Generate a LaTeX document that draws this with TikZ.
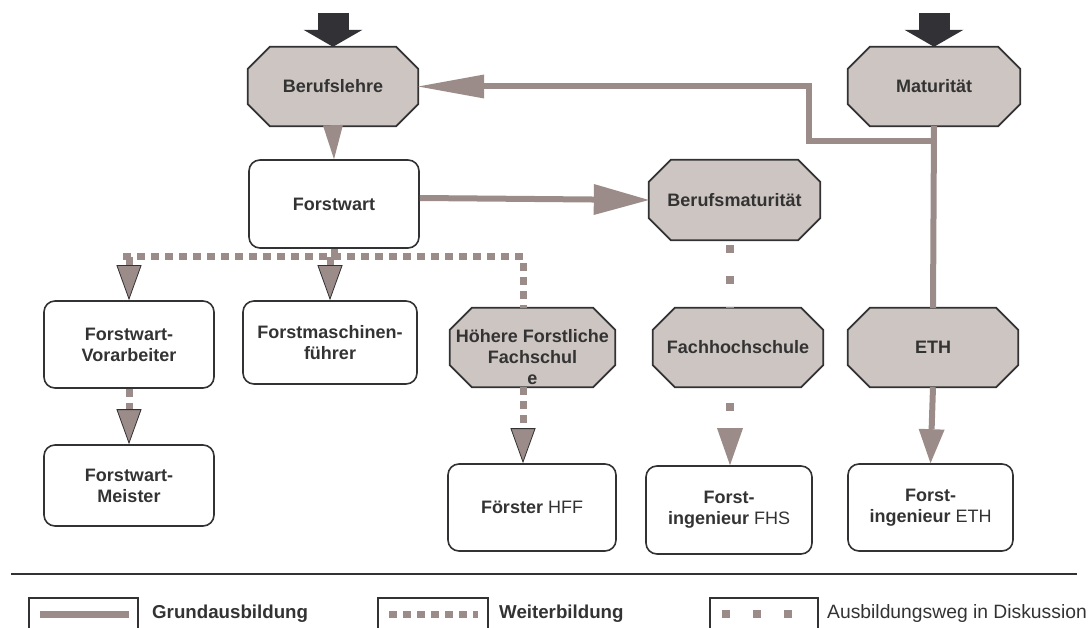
\documentclass[tikz,border=0pt]{standalone}
\usepackage{fontspec}
\setmainfont{Liberation Sans}
\usetikzlibrary{arrows.meta}
\pgfdeclarelayer{background}
\pgfsetlayers{background,main}

\definecolor{octfill}{RGB}{205,197,194}
\definecolor{conn}{RGB}{155,140,137}
\definecolor{outl}{RGB}{50,50,52}
\definecolor{txt}{RGB}{51,51,51}
\definecolor{entrycol}{RGB}{50,49,54}

\tikzset{
	lbl/.style={font=\bfseries\fontsize{18}{21}\selectfont, text=txt, align=center},
	oct/.style={lbl, minimum width=170pt, minimum height=79pt, inner sep=1pt},
	octline/.style={draw=outl, line width=1.8pt, fill=octfill},
	rbox/.style={lbl, draw=outl, line width=1.6pt, rounded corners=11pt, minimum width=170pt, inner sep=1pt},
	grund/.style={draw=conn, line width=6pt},
	weiter/.style={draw=conn, line width=7pt, dash pattern=on 8pt off 6pt},
	disk/.style={draw=conn, line width=8pt, dash pattern=on 8pt off 23pt},
	entry/.style={draw=entrycol, line width=31pt, -{Triangle[length=17pt, width=59pt, line width=0pt]}},
	gtip/.tip={Triangle[length=34pt, width=26pt, line width=0pt]},
	wtip/.tip={Triangle[length=35pt, width=25pt, line width=0.8pt, fill=conn, color=outl]},
	legtext/.style={anchor=west, font=\bfseries\fontsize{18.7}{21}\selectfont, text=txt, inner sep=0pt}
}

\begin{document}
\begin{tikzpicture}[x=1pt, y=-1pt]
	\useasboundingbox (0,0) rectangle (1090,628);

	% Boxen
	\node[oct] (lehre) at (333,86.5) {Berufslehre};
	\node[oct, minimum width=172pt] (matur) at (934,86.5) {Maturität};
	\node[rbox, minimum height=88pt] (forstwart) at (334,204) {Forstwart};
	\node[oct, minimum width=171pt, minimum height=80pt] (bmat) at (734.5,200) {Berufsmaturität};
	\node[rbox, minimum height=87pt] (vorarb) at (129,344.5) {Forstwart-\\Vorarbeiter};
	\node[rbox, minimum width=174pt, minimum height=83pt] (fmasch) at (330,342.5) {Forstmaschinen-\\führer};
	\node[oct, minimum width=165pt] (hfs) at (532.5,347.5) {\rule{0pt}{33pt}Höhere Forstliche\\Fachschul\\e};
	\node[oct] (fh) at (738,347.5) {Fachhochschule};
	\node[oct] (eth) at (933,347.5) {ETH};
	\node[rbox, minimum height=81pt] (meister) at (129,485.5) {Forstwart-\\Meister};
	\node[rbox, minimum width=168pt, minimum height=87pt] (foerster) at (532,507.5) {Förster {\mdseries HFF}};
	\node[rbox, minimum width=166pt, minimum height=88pt] (ingfhs) at (729,510) {Forst-\\ingenieur {\mdseries FHS}};
	\node[rbox, minimum width=165pt, minimum height=87pt] (ingeth) at (930.5,507.5) {Forst-\\ingenieur {\mdseries ETH}};

	\begin{pgfonlayer}{background}
		\foreach \n in {lehre,matur,bmat,hfs,fh,eth}
			\draw[octline] ([xshift=22pt]\n.north west) -- ([xshift=-22pt]\n.north east) -- ([yshift=-22pt]\n.north east) -- ([yshift=22pt]\n.south east) -- ([xshift=-22pt]\n.south east) -- ([xshift=22pt]\n.south west) -- ([yshift=22pt]\n.south west) -- ([yshift=-22pt]\n.north west) -- cycle;
	\end{pgfonlayer}

	% Einstieg
	\coordinate (lehrein) at (333,13);
	\coordinate (maturin) at (934,13);
	\draw[entry] (lehrein) -- (lehre.north);
	\draw[entry] (maturin) -- (matur.north);

	% Grundausbildung
	\draw[grund, -{Triangle[length=34pt, width=20pt, line width=0pt]}] (lehre.south) -- (forstwart.north);
	\draw[grund, -{Triangle[length=55pt, width=31pt, line width=0pt]}] ([yshift=6pt]forstwart.east) -- (bmat.west);
	\draw[grund] (matur.south) -- (eth.north);
	\coordinate (knick) at (809,141.5);
	\draw[grund, -{Triangle[length=66pt, width=24pt, line width=0pt]}] (matur.south |- knick) -- (knick) -- (knick |- lehre.east) -- (lehre.east);
	\draw[grund, -gtip] (eth.south) -- (ingeth.north);

	% Weiterbildung
	\coordinate (wl) at (123,257);
	\coordinate (wr) at (523,257);
	\draw[weiter] (wl) -- (wr) -- (wr |- hfs.north);
	\draw[weiter] (forstwart.south) -- (forstwart.south |- wl);
	\draw[weiter, -wtip] (vorarb.north |- wl) -- (vorarb.north);
	\draw[weiter, -wtip] (fmasch.north |- wl) -- (fmasch.north);
	\draw[weiter, -wtip] (vorarb.south) -- (meister.north);
	\draw[weiter, -wtip] (wr |- hfs.south) -- (wr |- foerster.north);

	% in Diskussion
	\coordinate (dk) at (730,0);
	\draw[disk, dash phase=26pt] (dk |- bmat.south) -- (dk |- fh.north);
	\draw[disk, dash phase=15pt, -{Triangle[length=37pt, width=26pt, line width=0pt]}] (dk |- fh.south) -- (dk |- ingfhs.north);

	% Legende
	\draw[outl, line width=2pt] (11,574) -- (1077,574);
	\draw[outl, line width=1.8pt] (29,598) rectangle (138,640);
	\draw[grund, line width=7pt] (40,614) -- (129,614);
	\node[legtext] (lgrund) at (152,614) {Grundausbildung};
	\draw[outl, line width=1.8pt] (378,598) rectangle (488,640);
	\draw[weiter] (389,614) -- (478,614);
	\node[legtext] (lweiter) at (499,614) {Weiterbildung};
	\draw[outl, line width=1.8pt] (710,598) rectangle (818,640);
	\draw[disk] (722,614) -- (800,614);
	\node[legtext, font=\mdseries\fontsize{19.3}{22}\selectfont] (ldisk) at (827,614) {Ausbildungsweg in Diskussion};
\end{tikzpicture}
\end{document}
